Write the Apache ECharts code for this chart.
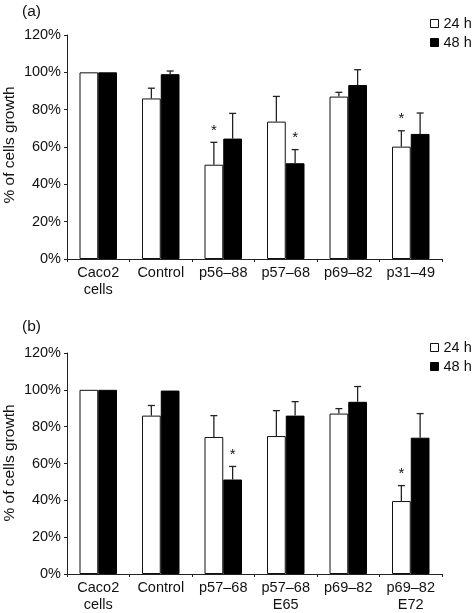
<!DOCTYPE html>
<html>
<head>
<meta charset="utf-8">
<script src="https://cdn.jsdelivr.net/npm/echarts@6/dist/echarts.min.js"></script>
<style>html,body{margin:0;padding:0;background:#fff}#c{width:472px;height:613px}</style>
</head>
<body>
<div id="c"></div>
<script>
// Panel (a)
var categoriesA = ['Caco2\ncells', 'Control', 'p56–88', 'p57–68', 'p69–82', 'p31–49'];
var h24A = [100, 86, 50.5, 73.6, 87, 60.2];
var e24A = [0, 5.5, 12, 13.5, 2.3, 8.5];
var h48A = [100, 99, 64.5, 51.3, 93.2, 67];
var e48A = [0, 1.7, 13.5, 7.3, 8.2, 11.2];
var sig24A = [0, 0, 1, 0, 0, 1];
var sig48A = [0, 0, 0, 1, 0, 0];
// Panel (b)
var categoriesB = ['Caco2\ncells', 'Control', 'p57–68', 'p57–68\nE65', 'p69–82', 'p69–82\nE72'];
var h24B = [100, 86, 74.4, 74.9, 87.1, 39.6];
var e24B = [0, 5.5, 11.6, 13.8, 2.7, 8.4];
var h48B = [100, 99.6, 51.3, 86, 93.5, 74];
var e48B = [0, 0, 7.1, 7.6, 8.3, 13.1];
var sig24B = [0, 0, 0, 0, 0, 1];
var sig48B = [0, 0, 1, 0, 0, 0];
var yTicks = [0, 20, 40, 60, 80, 100, 120];
var yTitle = '% of cells growth';

var FONT = '"Liberation Sans", Arial, sans-serif';
var chart = echarts.init(document.getElementById('c'), null, {renderer: 'canvas'});

function errData(vals, errs, sigs) {
  return vals.map(function (v, i) { return [i, v, errs[i], sigs[i]]; });
}
function makeErr(off) {
  return function (params, api) {
    var ci = api.value(0), v = api.value(1), e = api.value(2), s = api.value(3);
    var w = api.size([1, 0])[0];
    var base = api.coord([ci, v]);
    var top = api.coord([ci, v + e]);
    var x = base[0] + off * w;
    var children = [];
    if (e > 0) {
      children.push({type: 'line', shape: {x1: x, y1: base[1], x2: x, y2: top[1]},
        style: {stroke: '#222', lineWidth: 1.3}});
      children.push({type: 'line', shape: {x1: x - 3.5, y1: top[1], x2: x + 3.5, y2: top[1]},
        style: {stroke: '#222', lineWidth: 1.3}});
    }
    if (s) {
      children.push({type: 'text', style: {text: '*', x: x, y: top[1] - 4, align: 'center',
        verticalAlign: 'bottom', font: '15px ' + FONT, fill: '#111'}});
    }
    return {type: 'group', children: children};
  };
}

function xAx(cats, gi) {
  return {type: 'category', gridIndex: gi, data: cats,
    axisLine: {lineStyle: {color: '#222', width: 1}},
    axisTick: {show: true, length: 3, lineStyle: {color: '#222'}},
    axisLabel: {interval: 0, color: '#111', fontSize: 14.5, fontFamily: FONT, lineHeight: 17, margin: 5}};
}
function yAx(gi) {
  return {type: 'value', gridIndex: gi, min: 0, max: 120, interval: 20,
    splitLine: {show: false},
    axisLine: {show: true, lineStyle: {color: '#222', width: 1}},
    axisTick: {show: true, length: 3, lineStyle: {color: '#222'}},
    axisLabel: {formatter: '{value}%', color: '#111', fontSize: 14.5, fontFamily: FONT, margin: 6}};
}
function bars(name, vals, gi, white) {
  return {type: 'bar', name: name, xAxisIndex: gi, yAxisIndex: gi, data: vals,
    barWidth: '30%', barGap: '0%',
    itemStyle: white ? {color: '#fff', borderColor: '#111', borderWidth: 1} : {color: '#000', borderColor: '#000', borderWidth: 1},
    emphasis: {disabled: true}};
}
function errSeries(vals, errs, sigs, gi, off) {
  return {type: 'custom', xAxisIndex: gi, yAxisIndex: gi, z: 5,
    data: errData(vals, errs, sigs), renderItem: makeErr(off), silent: true};
}
function legend(top) {
  return {data: [{name: '24 h', icon: 'rect'}, {name: '48 h', icon: 'rect'}],
    orient: 'vertical', left: 430, top: top, padding: 0,
    itemWidth: 8, itemHeight: 8, itemGap: 4, selectedMode: false,
    itemStyle: {borderWidth: 1},
    textStyle: {fontSize: 14.5, color: '#111', fontFamily: FONT}};
}
function yName(cy) {
  return {type: 'text', x: 10, y: cy, rotation: Math.PI / 2,
    style: {text: yTitle, font: '15.5px ' + FONT, fill: '#111', align: 'center', verticalAlign: 'middle'}};
}

chart.setOption({
  animation: false,
  backgroundColor: '#fff',
  grid: [
    {left: 67, right: 30, top: 35, height: 224, outerBoundsMode: 'none', containLabel: false},
    {left: 67, right: 30, top: 353, height: 221, outerBoundsMode: 'none', containLabel: false}
  ],
  legend: [legend(16), legend(340)],
  graphic: [
    {type: 'text', left: 22, top: 4, style: {text: '(a)', font: '15.5px ' + FONT, fill: '#111'}},
    {type: 'text', left: 22, top: 319, style: {text: '(b)', font: '15.5px ' + FONT, fill: '#111'}},
    yName(145),
    yName(463)
  ],
  xAxis: [xAx(categoriesA, 0), xAx(categoriesB, 1)],
  yAxis: [yAx(0), yAx(1)],
  series: [
    bars('24 h', h24A, 0, true),
    bars('48 h', h48A, 0, false),
    bars('24 h', h24B, 1, true),
    bars('48 h', h48B, 1, false),
    errSeries(h24A, e24A, sig24A, 0, -0.15),
    errSeries(h48A, e48A, sig48A, 0, 0.15),
    errSeries(h24B, e24B, sig24B, 1, -0.15),
    errSeries(h48B, e48B, sig48B, 1, 0.15)
  ]
});
</script>
</body>
</html>
